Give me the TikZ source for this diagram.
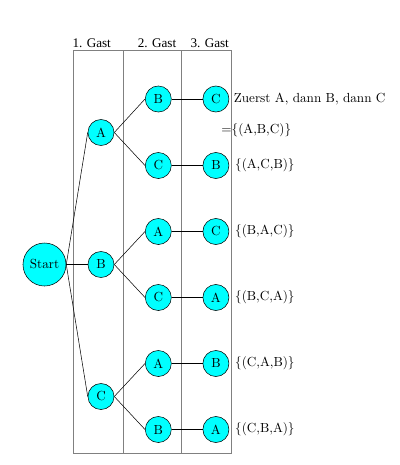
\documentclass[tikz,border=0pt]{standalone}
\usepackage{fontspec}
\newfontfamily\headfont{Liberation Serif}
\usetikzlibrary{positioning}
\definecolor{guestfill}{RGB}{0,255,255}

\begin{document}
\begin{tikzpicture}[
  x=0.76pt, y=-0.76pt,
  guest/.style={draw,circle,fill=guestfill,inner sep=0pt,minimum size=19.8pt},
  root/.style={draw,circle,fill=guestfill,inner sep=0pt,minimum size=32.7pt},
  column/.style={draw=gray,line width=0.6pt},
  header/.style={font=\headfont},
  branch/.style={draw,line width=0.4pt},
  result/.style={inner sep=3.33pt,anchor=west}
]
\useasboundingbox (0,0) rectangle (400,465);

% Spalten
\draw[column] (73,50) rectangle (123,453);
\draw[column] (123,50) rectangle (181.5,453);
\draw[column] (181.5,50) rectangle (231.5,453);
\node[header] (head1) at (91.7,43) {1. Gast};
\node[header] (head2) at (157,43) {2. Gast};
\node[header] (head3) at (209.7,43) {3. Gast};

% Nodes
\node[root] (start) at (44.5,264.5) {Start};
\node[guest] (a) at (101,132.5) {A};
\node[guest] (b) at (101,264.5) {B};
\node[guest] (c) at (101,396.5) {C};

\node[guest] (ab) at (158.3,99) {B};
\node[guest] (ac) at (158.3,165.5) {C};
\node[guest] (ba) at (158.3,231.5) {A};
\node[guest] (bc) at (158.3,297.5) {C};
\node[guest] (ca) at (158.3,363.5) {A};
\node[guest] (cb) at (158.3,429.5) {B};

\node[guest, right=23.6pt of ab] (abc) {C};
\node[guest, right=23.6pt of ac] (acb) {B};
\node[guest, right=23.6pt of ba] (bac) {C};
\node[guest, right=23.6pt of bc] (bca) {A};
\node[guest, right=23.6pt of ca] (cab) {B};
\node[guest, right=23.6pt of cb] (cba) {A};

% Ergebnisse
\node[result, right=0pt of abc] (abcText) {Zuerst A, dann B, dann C};
\node[anchor=west,inner sep=0pt] (abcSet) at (221.2,130) {=\{(A,B,C)\}};
\node[result, right=1pt of acb] (acbSet) {\{(A,C,B)\}};
\node[result, right=1pt of bac] (bacSet) {\{(B,A,C)\}};
\node[result, right=1pt of bca] (bcaSet) {\{(B,C,A)\}};
\node[result, right=1pt of cab] (cabSet) {\{(C,A,B)\}};
\node[result, right=1pt of cba] (cbaSet) {\{(C,B,A)\}};

% Connections
\draw[branch] (start.east) -- (a.west);
\draw[branch] (start.east) -- (b.west);
\draw[branch] (start.east) -- (c.west);
\draw[branch] (a.east) -- (ab.west);
\draw[branch] (a.east) -- (ac.west);
\draw[branch] (b.east) -- (ba.west);
\draw[branch] (b.east) -- (bc.west);
\draw[branch] (c.east) -- (ca.west);
\draw[branch] (c.east) -- (cb.west);
\draw[branch] (ab) -- (abc);
\draw[branch] (ac) -- (acb);
\draw[branch] (ba) -- (bac);
\draw[branch] (bc) -- (bca);
\draw[branch] (ca) -- (cab);
\draw[branch] (cb) -- (cba);

\end{tikzpicture}
\end{document}
